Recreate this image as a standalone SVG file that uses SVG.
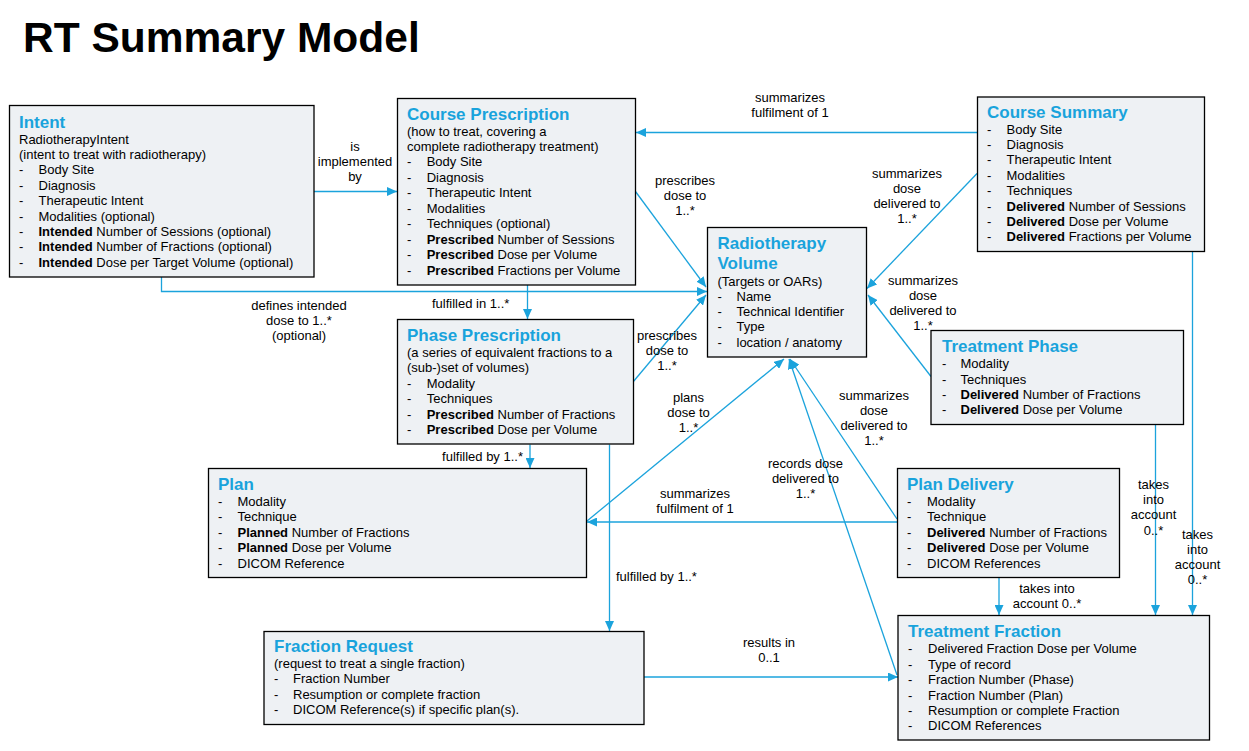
<svg xmlns="http://www.w3.org/2000/svg" width="1249" height="751" viewBox="0 0 1249 751">
<style>
text{font-family:"Liberation Sans",Arial,sans-serif;font-size:13px;fill:#000}
.box{fill:#eef1f4;stroke:#000;stroke-width:1.3}
.h{font-size:17px;font-weight:bold;fill:#19a3dc}
.b{font-weight:bold}
.c{stroke:#1ba3dc;stroke-width:1.3;fill:none;marker-end:url(#a)}
.l{text-anchor:middle}
.title{font-size:42.5px;font-weight:bold}
</style>
<defs>
<marker id="a" markerUnits="userSpaceOnUse" markerWidth="10" markerHeight="9" refX="10" refY="4.5" orient="auto">
<path d="M0,0 L10,4.5 L0,9 z" fill="#1ba3dc"/>
</marker>
</defs>
<rect width="1249" height="751" fill="#fff"/>
<text class="title" x="23" y="51.5">RT Summary Model</text>

<g id="connectors">
<path class="c" d="M314,191.5 H397"/>
<path class="c" d="M161.5,277 V291.5 H707"/>
<path class="c" d="M635.5,191.5 L706,287"/>
<path class="c" d="M527.5,285 V319"/>
<path class="c" d="M977,132.5 H636"/>
<path class="c" d="M977,173.5 L867,288.5"/>
<path class="c" d="M1192.5,252 V615"/>
<path class="c" d="M931,376.5 L868,295"/>
<path class="c" d="M1155.5,424.5 V615"/>
<path class="c" d="M633,382 L706,295"/>
<path class="c" d="M530,444.5 V468"/>
<path class="c" d="M609.5,444.5 V631"/>
<path class="c" d="M587,521 L784,359"/>
<path class="c" d="M897,522 H587"/>
<path class="c" d="M897,519 L790,359"/>
<path class="c" d="M999,577.5 V615"/>
<path class="c" d="M897,675 L789,359"/>
<path class="c" d="M644,677 H898"/>
<g id="labels">
<text class="l" x="355" y="151">is</text>
<text class="l" x="355" y="166">implemented</text>
<text class="l" x="355" y="181">by</text>
<text class="l" x="299" y="310">defines intended</text>
<text class="l" x="299" y="325">dose to 1..*</text>
<text class="l" x="299" y="340">(optional)</text>
<text class="l" x="685" y="185">prescribes</text>
<text class="l" x="685" y="200.3">dose to</text>
<text class="l" x="685" y="215.3">1..*</text>
<text x="432" y="308">fulfilled in 1..*</text>
<text class="l" x="790" y="102.3">summarizes</text>
<text class="l" x="790" y="117.3">fulfilment of 1</text>
<text class="l" x="907" y="178.3">summarizes</text>
<text class="l" x="907" y="193.3">dose</text>
<text class="l" x="907" y="208.3">delivered to</text>
<text class="l" x="907" y="223.3">1..*</text>
<text class="l" x="923" y="285">summarizes</text>
<text class="l" x="923" y="300">dose</text>
<text class="l" x="923" y="315">delivered to</text>
<text class="l" x="923" y="329.5">1..*</text>
<text class="l" x="1153.5" y="489.3">takes</text>
<text class="l" x="1153.5" y="504.3">into</text>
<text class="l" x="1153.5" y="519.3">account</text>
<text class="l" x="1153.5" y="534.5">0..*</text>
<text class="l" x="1197.5" y="538.7">takes</text>
<text class="l" x="1197.5" y="553.7">into</text>
<text class="l" x="1197.5" y="568.7">account</text>
<text class="l" x="1197.5" y="583.7">0..*</text>
<text class="l" x="667" y="340">prescribes</text>
<text class="l" x="667" y="354.7">dose to</text>
<text class="l" x="667" y="369.7">1..*</text>
<text class="l" x="688.5" y="401.7">plans</text>
<text class="l" x="688.5" y="416.7">dose to</text>
<text class="l" x="688.5" y="431.7">1..*</text>
<text class="l" x="874" y="400">summarizes</text>
<text class="l" x="874" y="415">dose</text>
<text class="l" x="874" y="430">delivered to</text>
<text class="l" x="874" y="444.5">1..*</text>
<text class="l" x="805.5" y="468.3">records dose</text>
<text class="l" x="805.5" y="483.3">delivered to</text>
<text class="l" x="805.5" y="497.5">1..*</text>
<text class="l" x="695" y="498.3">summarizes</text>
<text class="l" x="695" y="513.3">fulfilment of 1</text>
<text x="523" y="460.5" text-anchor="end">fulfilled by 1..*</text>
<text x="616" y="581">fulfilled by 1..*</text>
<text class="l" x="1047" y="593.3">takes into</text>
<text class="l" x="1047" y="608.3">account 0..*</text>
<text class="l" x="769" y="646.7">results in</text>
<text class="l" x="769" y="661.7">0..1</text>
</g>
</g>

<g id="intent">
<rect class="box" x="9.5" y="105.5" width="304.5" height="171.5"/>
<text class="h" x="19" y="127.5">Intent</text>
<text x="19" y="143.5">RadiotherapyIntent</text>
<text x="19" y="159">(intent to treat with radiotherapy)</text>
<text x="19" y="174.3">-<tspan x="38.5">Body Site</tspan></text>
<text x="19" y="189.7">-<tspan x="38.5">Diagnosis</tspan></text>
<text x="19" y="205">-<tspan x="38.5">Therapeutic Intent</tspan></text>
<text x="19" y="220.5">-<tspan x="38.5">Modalities (optional)</tspan></text>
<text x="19" y="236">-<tspan x="38.5" class="b">Intended</tspan> Number of Sessions (optional)</text>
<text x="19" y="251.3">-<tspan x="38.5" class="b">Intended</tspan> Number of Fractions (optional)</text>
<text x="19" y="266.7">-<tspan x="38.5" class="b">Intended</tspan> Dose per Target Volume (optional)</text>
</g>

<g id="course-prescription">
<rect class="box" x="397.5" y="98.5" width="238" height="186.5"/>
<text class="h" x="407" y="120">Course Prescription</text>
<text x="407" y="135.5">(how to treat, covering a</text>
<text x="407" y="151">complete radiotherapy treatment)</text>
<text x="407" y="166.4">-<tspan x="426.7">Body Site</tspan></text>
<text x="407" y="181.9">-<tspan x="426.7">Diagnosis</tspan></text>
<text x="407" y="197.3">-<tspan x="426.7">Therapeutic Intent</tspan></text>
<text x="407" y="212.8">-<tspan x="426.7">Modalities</tspan></text>
<text x="407" y="228.2">-<tspan x="426.7">Techniques (optional)</tspan></text>
<text x="407" y="243.7">-<tspan x="426.7" class="b">Prescribed</tspan> Number of Sessions</text>
<text x="407" y="259.1">-<tspan x="426.7" class="b">Prescribed</tspan> Dose per Volume</text>
<text x="407" y="274.6">-<tspan x="426.7" class="b">Prescribed</tspan> Fractions per Volume</text>
</g>

<g id="course-summary">
<rect class="box" x="977.5" y="97" width="227" height="154.5"/>
<text class="h" x="987" y="117.5">Course Summary</text>
<text x="987" y="133.5">-<tspan x="1006.5">Body Site</tspan></text>
<text x="987" y="148.9">-<tspan x="1006.5">Diagnosis</tspan></text>
<text x="987" y="164.3">-<tspan x="1006.5">Therapeutic Intent</tspan></text>
<text x="987" y="179.7">-<tspan x="1006.5">Modalities</tspan></text>
<text x="987" y="195.1">-<tspan x="1006.5">Techniques</tspan></text>
<text x="987" y="210.5">-<tspan x="1006.5" class="b">Delivered</tspan> Number of Sessions</text>
<text x="987" y="225.9">-<tspan x="1006.5" class="b">Delivered</tspan> Dose per Volume</text>
<text x="987" y="241.3">-<tspan x="1006.5" class="b">Delivered</tspan> Fractions per Volume</text>
</g>

<g id="radiotherapy-volume">
<rect class="box" x="707.5" y="227.5" width="159" height="129.5"/>
<text class="h" x="717.5" y="249.3">Radiotherapy</text>
<text class="h" x="717.5" y="268.7">Volume</text>
<text x="717.5" y="285.7">(Targets or OARs)</text>
<text x="717.5" y="300.7">-<tspan x="736.5">Name</tspan></text>
<text x="717.5" y="316">-<tspan x="736.5">Technical Identifier</tspan></text>
<text x="717.5" y="331.3">-<tspan x="736.5">Type</tspan></text>
<text x="717.5" y="347">-<tspan x="736.5">location / anatomy</tspan></text>
</g>

<g id="treatment-phase">
<rect class="box" x="931" y="330.5" width="252.5" height="94"/>
<text class="h" x="942" y="351.7">Treatment Phase</text>
<text x="942" y="368.3">-<tspan x="960.5">Modality</tspan></text>
<text x="942" y="384">-<tspan x="960.5">Techniques</tspan></text>
<text x="942" y="399">-<tspan x="960.5" class="b">Delivered</tspan> Number of Fractions</text>
<text x="942" y="414">-<tspan x="960.5" class="b">Delivered</tspan> Dose per Volume</text>
</g>

<g id="phase-prescription">
<rect class="box" x="397.5" y="319.5" width="236" height="124.5"/>
<text class="h" x="407" y="341">Phase Prescription</text>
<text x="407" y="356.5">(a series of equivalent fractions to a</text>
<text x="407" y="372">(sub-)set of volumes)</text>
<text x="407" y="387.5">-<tspan x="426.7">Modality</tspan></text>
<text x="407" y="403">-<tspan x="426.7">Techniques</tspan></text>
<text x="407" y="418.5">-<tspan x="426.7" class="b">Prescribed</tspan> Number of Fractions</text>
<text x="407" y="434">-<tspan x="426.7" class="b">Prescribed</tspan> Dose per Volume</text>
</g>

<g id="plan">
<rect class="box" x="208.5" y="468.5" width="378" height="109"/>
<text class="h" x="218" y="490">Plan</text>
<text x="218" y="505.5">-<tspan x="237.5">Modality</tspan></text>
<text x="218" y="521">-<tspan x="237.5">Technique</tspan></text>
<text x="218" y="536.5">-<tspan x="237.5" class="b">Planned</tspan> Number of Fractions</text>
<text x="218" y="552">-<tspan x="237.5" class="b">Planned</tspan> Dose per Volume</text>
<text x="218" y="567.5">-<tspan x="237.5">DICOM Reference</tspan></text>
</g>

<g id="plan-delivery">
<rect class="box" x="897.5" y="468.5" width="222" height="109"/>
<text class="h" x="907" y="490">Plan Delivery</text>
<text x="907" y="505.5">-<tspan x="927">Modality</tspan></text>
<text x="907" y="521">-<tspan x="927">Technique</tspan></text>
<text x="907" y="536.5">-<tspan x="927" class="b">Delivered</tspan> Number of Fractions</text>
<text x="907" y="552">-<tspan x="927" class="b">Delivered</tspan> Dose per Volume</text>
<text x="907" y="567.5">-<tspan x="927">DICOM References</tspan></text>
</g>

<g id="fraction-request">
<rect class="box" x="264" y="631.5" width="380" height="93"/>
<text class="h" x="274" y="651.7">Fraction Request</text>
<text x="274" y="667.7">(request to treat a single fraction)</text>
<text x="274" y="683.3">-<tspan x="293">Fraction Number</tspan></text>
<text x="274" y="699">-<tspan x="293">Resumption or complete fraction</tspan></text>
<text x="274" y="714.3">-<tspan x="293">DICOM Reference(s) if specific plan(s).</tspan></text>
</g>

<g id="treatment-fraction">
<rect class="box" x="898" y="615.5" width="311.5" height="124.5"/>
<text class="h" x="908" y="636.7">Treatment Fraction</text>
<text x="908" y="653.3">-<tspan x="928">Delivered Fraction Dose per Volume</tspan></text>
<text x="908" y="669">-<tspan x="928">Type of record</tspan></text>
<text x="908" y="684.3">-<tspan x="928">Fraction Number (Phase)</tspan></text>
<text x="908" y="699.6">-<tspan x="928">Fraction Number (Plan)</tspan></text>
<text x="908" y="715">-<tspan x="928">Resumption or complete Fraction</tspan></text>
<text x="908" y="730.3">-<tspan x="928">DICOM References</tspan></text>
</g>
</svg>
